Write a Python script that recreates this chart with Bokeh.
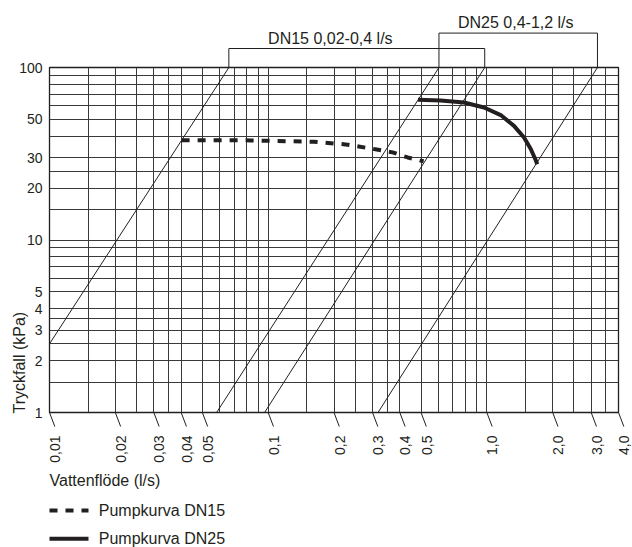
import numpy as np
from bokeh.plotting import figure
from bokeh.models import Range1d, FixedTicker, BasicTickFormatter
from bokeh.core.properties import value
from bokeh.embed import file_html
from bokeh.resources import INLINE

# ---------------- data ----------------
X_TICKS = [0.01, 0.02, 0.03, 0.04, 0.05, 0.1, 0.2, 0.3, 0.4, 0.5, 1.0, 2.0, 3.0, 4.0]
X_TICK_LABELS = ["0,01", "0,02", "0,03", "0,04", "0,05", "0,1", "0,2", "0,3",
                 "0,4", "0,5", "1,0", "2,0", "3,0", "4,0"]
Y_TICKS = [1, 2, 3, 4, 5, 10, 20, 30, 50, 100]

X_GRID = [0.01, 0.015, 0.02, 0.025, 0.03, 0.035, 0.04, 0.05, 0.06, 0.07, 0.08, 0.09,
          0.1, 0.15, 0.2, 0.25, 0.3, 0.35, 0.4, 0.5, 0.6, 0.7, 0.8, 0.9,
          1.0, 1.5, 2.0, 2.5, 3.0, 3.5, 4.0]
Y_GRID = [1, 1.5, 2, 2.5, 3, 3.5, 4, 5, 6, 7, 8, 9,
          10, 15, 20, 25, 30, 40, 50, 60, 70, 80, 90, 100]

X_TITLE = "Vattenflöde (l/s)"
Y_TITLE = "Tryckfall (kPa)"

# valve characteristic lines (flow l/s, pressure drop kPa)
KV_Q_START = [0.01, 0.0581, 0.0963, 0.318]
KV_P_START = [2.5, 1.0, 1.0, 1.0]
KV_Q_END = [0.0661, 0.604, 0.978, 3.205]
KV_P_END = [100, 100, 100, 100]

# pump curves
DN15_Q = [0.0402, 0.0831, 0.1614, 0.226, 0.3134, 0.371, 0.4345, 0.514]
DN15_P = [37.9, 37.8, 37.1, 35.8, 33.5, 32.2, 30.1, 28.6]
DN25_Q = [0.4843, 0.615, 0.786, 0.971, 1.157, 1.331, 1.479, 1.588, 1.674, 1.700]
DN25_P = [65.0, 64.4, 62.7, 58.6, 53.0, 45.9, 39.3, 33.7, 29.0, 27.5]

SERIES_LABELS = ["Pumpkurva DN15", "Pumpkurva DN25"]

# range brackets above the chart
BRACKET_LABELS = ["DN15  0,02-0,4 l/s", "DN25  0,4-1,2 l/s"]
BRACKET_FROM = [0, 1]   # index of characteristic line at left leg
BRACKET_TO = [2, 3]     # index of characteristic line at right leg
BRACKET_TEXT_Q = [0.197, 1.388]

# ---------------- layout ----------------
FRAME_W, FRAME_H = 569, 345
PX_X = FRAME_W / np.log10(4.0 / 0.01)
PX_Y = FRAME_H / 2.0
INK = "#231f20"
FONT = "Liberation Sans"


def below_bottom(px):
    """y data value px screen pixels below the bottom of the frame (y=1)."""
    return 10 ** (-px / PX_Y)


p = figure(width=632, height=547, x_axis_type="log", y_axis_type="log",
           x_range=Range1d(0.01, 4.0), y_range=Range1d(1, 100),
           output_backend="svg", toolbar_location=None,
           min_border_left=49, min_border_right=14, min_border_top=67, min_border_bottom=135)
p.background_fill_color = "white"
p.border_fill_color = "white"
p.outline_line_color = INK
p.outline_line_width = 1.3

# grid
p.xgrid.ticker = FixedTicker(ticks=X_GRID)
p.ygrid.ticker = FixedTicker(ticks=Y_GRID)
for g in (p.xgrid, p.ygrid):
    g.grid_line_color = "#3a3a3a"
    g.grid_line_width = 1
    g.grid_line_alpha = 1

# y axis (Bokeh axis); x axis labels are drawn below as slanted-tick style labels
p.xaxis.ticker = FixedTicker(ticks=X_TICKS)
p.xaxis.visible = False
p.yaxis.ticker = FixedTicker(ticks=Y_TICKS)
p.yaxis.formatter = BasicTickFormatter()
p.yaxis.major_label_standoff = 7
p.yaxis.axis_line_color = None
p.yaxis.major_tick_line_color = None
p.yaxis.minor_tick_line_color = None
p.yaxis.major_tick_out = 0
p.yaxis.major_tick_in = 0
p.yaxis.major_label_text_font = FONT
p.yaxis.major_label_text_font_size = "14px"
p.yaxis.major_label_text_color = INK

# slanted tick marks and vertical tick labels below the x axis
tick_y0 = [1.0] * len(X_TICKS)
tick_x1 = [t * 10 ** (5.3 / PX_X) for t in X_TICKS]
tick_y1 = [below_bottom(14.0)] * len(X_TICKS)
p.segment(x0=X_TICKS, y0=tick_y0, x1=tick_x1, y1=tick_y1,
          line_color=INK, line_width=1, level="overlay")
p.text(x=X_TICKS, y=tick_y0, text=X_TICK_LABELS, angle=np.pi / 2,
       x_offset=5.5, y_offset=23, text_align="right", text_baseline="middle",
       level="overlay", text_font=value(FONT), text_font_size="14px", text_color=INK)

# axis titles
p.text(x=[X_TICKS[0]], y=[Y_TICKS[0]], text=[Y_TITLE], angle=np.pi / 2,
       x_offset=-30, y_offset=1, text_align="left", text_baseline="middle",
       level="overlay", text_font=value(FONT), text_font_size="16px", text_color=INK)
p.text(x=[X_TICKS[0]], y=[Y_TICKS[0]], text=[X_TITLE],
       x_offset=0, y_offset=68, text_align="left", text_baseline="middle",
       level="overlay", text_font=value(FONT), text_font_size="16px", text_color=INK)

# characteristic lines
p.multi_line(xs=[[a, b] for a, b in zip(KV_Q_START, KV_Q_END)],
             ys=[[a, b] for a, b in zip(KV_P_START, KV_P_END)],
             line_color=INK, line_width=1)

# pump curves
STYLES = [dict(line_color=INK, line_width=4, line_dash="8 8"),
          dict(line_color=INK, line_width=4, line_dash="solid")]
p.line(DN15_Q, DN15_P, **STYLES[0])
p.line(DN25_Q, DN25_P, **STYLES[1])

# brackets
RISES = [19.0, 34.4]
bx, by = [], []
for i, (a, b) in enumerate(zip(BRACKET_FROM, BRACKET_TO)):
    top = 100 * 10 ** (RISES[i] / PX_Y)
    bx.append([KV_Q_END[a], KV_Q_END[a], KV_Q_END[b], KV_Q_END[b]])
    by.append([100, top, top, 100])
p.multi_line(xs=bx, ys=by, line_color=INK, line_width=1, level="overlay")
TEXT_RISE = [29.0, 45.0]
for i, lab in enumerate(BRACKET_LABELS):
    p.text(x=[BRACKET_TEXT_Q[i]], y=[100], text=[lab], y_offset=-TEXT_RISE[i],
           text_align="center", text_baseline="middle", level="overlay",
           text_font=value(FONT), text_font_size="16px", text_color=INK)

# key below the chart
ROW_DROP = [98.0, 126.3]
x_left = X_TICKS[0]
x_glyph_end = x_left * 10 ** (39.0 / PX_X)
for i, lab in enumerate(SERIES_LABELS):
    yy = below_bottom(ROW_DROP[i])
    p.line([x_left, x_glyph_end], [yy, yy], level="overlay", **STYLES[i])
    p.text(x=[x_left], y=[yy], text=[lab], x_offset=49.3,
           text_align="left", text_baseline="middle", level="overlay",
           text_font=value(FONT), text_font_size="16px", text_color=INK)

open("out.html", "w").write(file_html(p, INLINE))
